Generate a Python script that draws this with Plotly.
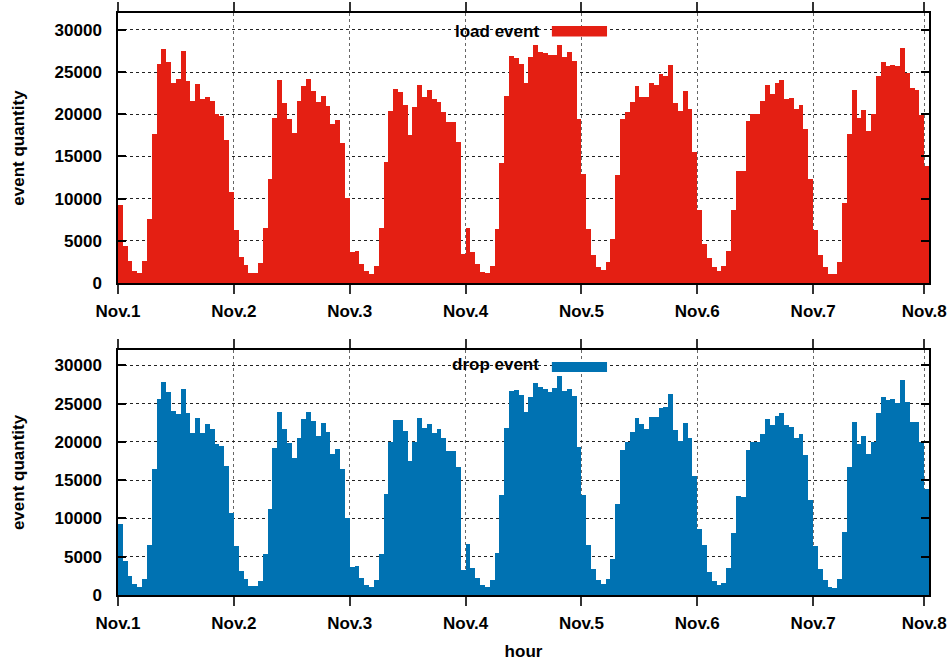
import plotly.graph_objects as go

hours = list(range(168))
tick_vals = [0, 24, 48, 72, 96, 120, 144, 167]
tick_text = ["Nov.1", "Nov.2", "Nov.3", "Nov.4", "Nov.5", "Nov.6", "Nov.7", "Nov.8"]
y_ticks = [0, 5000, 10000, 15000, 20000, 25000, 30000]
y_tick_text = ["0", "5000", "10000", "15000", "20000", "25000", "30000"]

load_event = [
    9220, 4440, 2570, 1370, 1180, 2570, 7630, 17710, 26000, 27750, 26240, 23650, 24160, 27550, 23960, 21570, 23530, 21770, 22010, 21530, 20020, 19740, 16910, 10820,
    6270, 3050, 2130, 1250, 1250, 2330, 6510, 12370, 19580, 24080, 21330, 19420, 17750, 21530, 23370, 24160, 22810, 21490, 22130, 20980, 18820, 19380, 16590, 10100,
    3650, 3760, 2250, 1370, 1060, 2050, 6510, 14360, 20380, 22970, 22650, 21040, 17510, 20860, 23490, 22010, 22850, 21770, 21410, 20220, 19140, 19060, 16710, 3450,
    6510, 3650, 2250, 1330, 1140, 2050, 6430, 14240, 22170, 26870, 26630, 25920, 23760, 26750, 28150, 27430, 27310, 26990, 27070, 28230, 26790, 27430, 26270, 19420,
    12930, 6350, 3370, 1890, 1530, 2490, 5200, 12810, 19420, 20260, 21490, 23330, 22090, 22090, 23690, 23490, 24800, 24560, 25880, 21370, 20420, 22730, 20620, 15560,
    8630, 4640, 3010, 1930, 1410, 1970, 3840, 8710, 13250, 13250, 19180, 20060, 20060, 21570, 23410, 22410, 23690, 24040, 21810, 21890, 20620, 21060, 18270, 12290,
    6270, 3290, 1930, 1100, 1020, 2490, 9460, 17710, 22850, 19540, 20500, 18030, 19980, 24560, 26200, 25680, 25840, 25760, 27910, 24880, 23090, 22930, 19940, 13920,
]

drop_event = [
    9240, 4430, 2470, 1390, 1090, 2040, 6510, 16490, 25650, 27780, 26560, 24050, 23700, 26950, 23830, 21220, 23180, 21220, 22310, 21660, 19660, 19400, 16800, 10760,
    6420, 3130, 2130, 1170, 1170, 1870, 5380, 11200, 19230, 23910, 21740, 19790, 17880, 20570, 23000, 23960, 22740, 20830, 22440, 21350, 18450, 19010, 16490, 10070,
    3690, 3780, 2170, 1300, 1000, 1950, 5380, 13240, 20050, 22920, 22870, 21440, 17530, 20050, 23090, 21790, 22400, 21140, 21700, 20530, 18840, 18750, 16710, 3210,
    6600, 3470, 2170, 1300, 1000, 1950, 5430, 13110, 21830, 26690, 26780, 26170, 23910, 25820, 27690, 27210, 26950, 26560, 27040, 28600, 26610, 26910, 26040, 19310,
    13020, 6510, 3390, 1950, 1390, 2080, 4640, 11940, 18880, 19970, 21270, 23130, 22350, 21740, 23220, 23310, 24440, 24520, 26260, 21610, 20100, 22480, 20530, 15490,
    8680, 6510, 3040, 1870, 1350, 1610, 3470, 8120, 12890, 12800, 18880, 20050, 20050, 21000, 23000, 22270, 23390, 23830, 22220, 22000, 20530, 21090, 18230, 12370,
    6420, 3390, 2000, 1090, 950, 2040, 8290, 16710, 22570, 19750, 20790, 18360, 20050, 23740, 25910, 25480, 25610, 25090, 28130, 25260, 22660, 22610, 19970, 13890,
]

RED = "#E41F13"
BLUE = "#0072B2"
FONT = "Liberation Sans"

x_centers = [h + 0.5 for h in hours]

fig = go.Figure()
fig.add_trace(go.Bar(x=x_centers, y=load_event, width=1, marker=dict(color=RED, line=dict(width=0)),
                     name="load event", xaxis="x", yaxis="y", showlegend=False))
fig.add_trace(go.Bar(x=x_centers, y=drop_event, width=1, marker=dict(color=BLUE, line=dict(width=0)),
                     name="drop event", xaxis="x2", yaxis="y2", showlegend=False))

tickfont = dict(family=FONT, size=17, color="black", weight="bold")
xcommon = dict(range=[0, 168], tickmode="array", tickvals=tick_vals, ticktext=tick_text,
               ticks="outside", ticklen=9, tickwidth=1.5, tickcolor="#333",
               showline=True, linecolor="black", linewidth=1.5, mirror="ticks",
               showgrid=True, gridcolor="#666", griddash="dot", gridwidth=1,
               zeroline=False, tickfont=tickfont, ticklabelstandoff=3, automargin=False)
ycommon = dict(range=[0, 32000], tickmode="array", tickvals=y_ticks, ticktext=y_tick_text,
               ticks="inside", ticklen=8, tickwidth=1.5, tickcolor="black",
               showline=True, linecolor="black", linewidth=1.5, mirror="ticks",
               showgrid=True, gridcolor="#222", griddash="dot", gridwidth=1,
               zeroline=False, tickfont=tickfont, ticklabelstandoff=11, automargin=False,
               title=dict(text="event quantity", font=dict(family=FONT, size=17, color="black", weight="bold"), standoff=26))

fig.update_layout(
    width=951, height=661,
    margin=dict(l=118, r=22, t=13, b=66),
    paper_bgcolor="white", plot_bgcolor="white",
    bargap=0,
    xaxis=dict(domain=[0, 1], anchor="y", **xcommon),
    yaxis=dict(domain=[0.536, 1], anchor="x", **ycommon),
    xaxis2=dict(domain=[0, 1], anchor="y2",
                title=dict(text="hour", font=dict(family=FONT, size=17, color="black", weight="bold"), standoff=14),
                **xcommon),
    yaxis2=dict(domain=[0, 0.421], anchor="x2", **ycommon),
)

# key boxes (white background, text, colour swatch)
def add_key(label, color, yc, y0box, y1box, y0sw, y1sw):
    fig.add_shape(type="rect", xref="paper", yref="paper", x0=0.385, x1=0.615, y0=y0box, y1=y1box,
                  fillcolor="white", line=dict(width=0), layer="between")
    fig.add_shape(type="rect", xref="paper", yref="paper", x0=0.535, x1=0.603, y0=y0sw, y1=y1sw,
                  fillcolor=color, line=dict(width=0), layer="above")
    fig.add_annotation(xref="paper", yref="paper", x=0.5216, y=yc, xanchor="right", yanchor="middle",
                       text=label, showarrow=False,
                       font=dict(family=FONT, size=17, color="black", weight="bold"))

add_key("load event", RED, 0.969, 0.9536, 0.9845, 0.9596, 0.9777)
add_key("drop event", BLUE, 0.3952, 0.3815, 0.4107, 0.3832, 0.4003)

# remove the page's default body margin so the 951x661 figure fills the window exactly
fig.write_html("out.html", config={"displayModeBar": False},
               post_script="document.body.style.margin='0px';document.body.style.overflow='hidden';")
